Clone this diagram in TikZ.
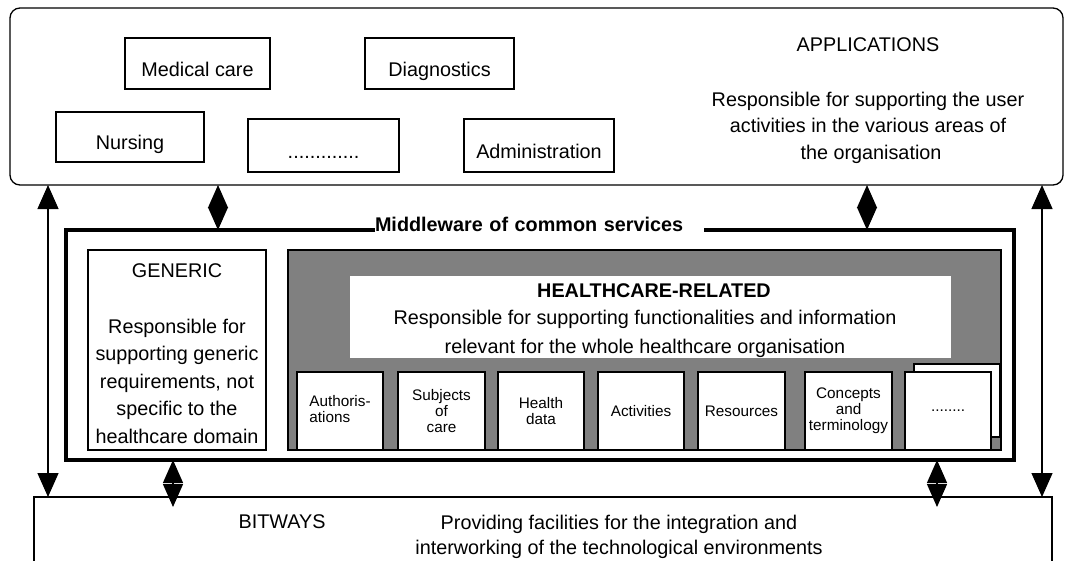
\documentclass[tikz,border=0pt]{standalone}
\usepackage{fontspec}
\setmainfont{Liberation Sans}
\usetikzlibrary{arrows.meta}
\newcommand\dgbig{\fontsize{19.8}{27.5}\selectfont}
\newcommand\dgsmall{\fontsize{15.3}{16}\selectfont}
\definecolor{midgrey}{HTML}{808080}
\begin{document}
\begin{tikzpicture}[x=1pt,y=-1pt,
  every node/.style={inner sep=0pt, outer sep=0pt},
  box/.style={draw, line width=1.2pt, fill=white, font=\dgbig, text height=25pt, text depth=0pt},
  sbox/.style={draw, line width=1.2pt, fill=white, font=\dgsmall, align=center, minimum width=86pt, minimum height=78pt},
  txt/.style={font=\dgbig, align=center},
  longarr/.style={line width=1.3pt, {Triangle[length=24pt,width=21pt]}-{Triangle[length=24pt,width=21pt]}},
  dblarr/.style={line width=1.3pt, {Triangle[length=23pt,width=20pt]}-{Triangle[length=23pt,width=20pt]}}
]
\useasboundingbox (0,0) rectangle (1067,560);

% Applications layer
\node[draw, line width=1.3pt, rounded corners=10pt, minimum width=1053pt, minimum height=177pt] (app) at (536.5,96.5) {};
\node[box, minimum width=145pt, minimum height=51pt] (med) at (197.5,63.5) {Medical care};
\node[box, minimum width=149pt, minimum height=51pt] (diag) at (439.5,63.5) {Diagnostics};
\node[box, minimum width=148pt, minimum height=50pt] (nurs) at (130,137) {Nursing};
\node[box, minimum width=151pt, minimum height=53pt] (adots) at (323.5,145.5) {.............};
\node[box, minimum width=150pt, minimum height=53pt] (admin) at (539,145.5) {Administration};
\node[txt, anchor=north] (apptitle) at (868,38) {APPLICATIONS};
\node[txt, anchor=north, font=\fontsize{19.8}{26.5}\selectfont] (appdesc) at (868,92) {Responsible for supporting the user\\activities in the various areas of\\\hspace*{6pt}the organisation};

% Bitways layer
\node[draw, line width=1.2pt, minimum width=1018pt, minimum height=103pt] (bit) at (543,548.5) {};
\node[txt, anchor=north] (bittitle) at (282,515) {BITWAYS};
\node[txt, anchor=north, font=\fontsize{19.8}{25.5}\selectfont] (bitdesc) at (619,515) {Providing facilities for the integration and\\interworking of the technological environments};

% Middleware
\node[draw, line width=4pt, minimum width=948pt, minimum height=230pt] (mw) at (540,345) {};
\node[fill=white, anchor=base west, inner ysep=5pt, text width=329pt, align=left, font=\bfseries\dgbig] (mwlabel) at (375,231) {Middleware of common services};

\node[box, minimum width=178pt, minimum height=200pt] (gen) at (177,350) {};
\node[txt, anchor=north] (gentext) at (177,264) {GENERIC\\[28pt]Responsible for\\supporting generic\\requirements, not\\specific to the\\healthcare domain};

\node[draw, line width=1.2pt, fill=midgrey, minimum width=713pt, minimum height=200pt] (hc) at (644.5,350) {};
\node[fill=white, minimum width=601pt, minimum height=82pt] (hcbox) at (650.5,317) {};
\node[txt, anchor=north, font=\bfseries\dgbig] (hctitle) at (654,284) {HEALTHCARE-RELATED};
\node[txt, anchor=north, font=\fontsize{19.8}{29}\selectfont] (hcdesc) at (645,310) {Responsible for supporting functionalities and information\\relevant for the whole healthcare organisation};

\node[sbox] (auth) at (340,411) {\begin{tabular}{@{}l@{}}Authoris-\\ations\end{tabular}};
\node[sbox, minimum width=87pt] (subj) at (441.5,411) {Subjects\\of\\care};
\node[sbox] (hdata) at (541,411) {Health\\data};
\node[sbox] (act) at (641,411) {Activities};
\node[sbox, minimum width=87pt] (res) at (741.5,411) {Resources};
\node[sbox, minimum width=87pt] (conc) at (848.5,411) {Concepts\\and\\terminology};
\node[draw, line width=1.2pt, fill=white, minimum width=86pt, minimum height=73pt] (back) at (957,400.5) {};
\node[sbox] (more) at (948,411) {........};

% Connectors
\coordinate (xl) at (48,0);
\coordinate (xr) at (1042,0);
\coordinate (xta) at (218,0);
\coordinate (xtb) at (867,0);
\coordinate (xba) at (173,0);
\coordinate (xbb) at (937,0);
\coordinate (bitin) at ([yshift=-10pt]bit.north);
\draw[longarr] (app.south -| xl) -- (bit.north -| xl);
\draw[longarr] (app.south -| xr) -- (bit.north -| xr);
\draw[dblarr] (app.south -| xta) -- (mw.north -| xta);
\draw[dblarr] (app.south -| xtb) -- (mw.north -| xtb);
\draw[dblarr] (mw.south -| xba) -- (bitin -| xba);
\draw[dblarr] (mw.south -| xbb) -- (bitin -| xbb);
\end{tikzpicture}
\end{document}
